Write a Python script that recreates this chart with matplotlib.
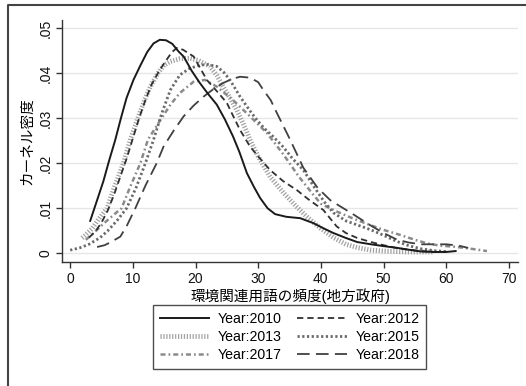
import matplotlib
matplotlib.use('Agg')
import matplotlib.pyplot as plt
from matplotlib.lines import Line2D

plt.rcParams['font.family'] = ['Liberation Sans', 'Noto Sans CJK JP']

# ── データ（図から読み取ったカーネル密度の推定値）──
x_2010 = [3.2, 4.3, 5.3, 6.2, 7.2, 8.1, 9.0, 10.1, 11.2, 12.3, 13.3, 14.3, 15.3, 16.3, 17.3, 18.1,
          19.4, 20.7, 22.0, 23.4, 24.7, 26.0, 27.0, 28.2, 29.3, 30.3, 31.5, 32.7, 34.5, 36.7, 38.8,
          40.5, 42.0, 44.0, 45.8, 48.0, 50.0, 52.2, 54.0, 56.0, 58.0, 60.0, 61.5]
y_2010 = [.0072, .0118, .0160, .0205, .0252, .0300, .0345, .0385, .0417, .0447, .0466, .0474, .0473,
          .0465, .0448, .0437, .0405, .0378, .0354, .0330, .0297, .0259, .0225, .0178, .0148, .0123,
          .0100, .0087, .0081, .0078, .0067, .0055, .0045, .0034, .0025, .0020, .0016, .0012, .0008,
          .0004, .0003, .0003, .0005]

x_2012 = [3.0, 4.0, 5.0, 6.0, 7.0, 8.0, 9.0, 10.0, 11.0, 12.0, 13.0, 14.2, 15.2, 16.2, 17.0, 18.0,
          19.7, 20.8, 21.8, 23.4, 25.0, 26.0, 27.1, 28.7, 30.0, 31.9, 34.0, 36.2, 38.0, 40.4, 42.5,
          44.0, 45.8, 48.0, 50.0, 52.0, 54.0, 56.0, 58.0, 60.0]
y_2012 = [.0035, .0048, .0068, .0095, .0130, .0170, .0210, .0255, .0300, .0340, .0375, .0405, .0426,
          .0446, .0456, .0452, .0437, .0410, .0385, .0360, .0334, .0305, .0274, .0237, .0215, .0185,
          .0160, .0140, .0120, .0096, .0060, .0045, .0034, .0025, .0018, .0012, .0008, .0005, .0003,
          .0003]

x_2013 = [1.9, 2.4, 3.5, 4.5, 5.9, 7.0, 8.5, 9.6, 10.8, 12.0, 12.8, 14.0, 15.0, 16.0, 17.5, 19.1,
          20.5, 22.3, 23.4, 24.4, 25.5, 26.6, 27.7, 28.7, 30.0, 31.9, 34.0, 36.0, 38.0, 40.0, 42.0,
          44.0, 46.0, 48.0, 50.0, 52.0, 54.0, 56.0, 58.0]
y_2013 = [.0034, .0040, .0055, .0075, .0100, .0145, .0200, .0252, .0300, .0345, .0370, .0400, .0418,
          .0426, .0432, .0433, .0428, .0415, .0395, .0370, .0345, .0318, .0285, .0252, .0215, .0170,
          .0135, .0105, .0078, .0055, .0035, .0020, .0012, .0007, .0005, .0004, .0003, .0003, .0003]

x_2015 = [0.0, 1.5, 3.0, 4.8, 6.0, 7.5, 9.0, 10.5, 12.0, 13.3, 14.6, 16.0, 17.5, 19.0, 20.7, 22.0,
          23.4, 24.5, 25.5, 27.1, 28.5, 29.8, 31.0, 32.4, 34.0, 35.5, 37.2, 38.8, 40.5, 42.0, 44.0,
          46.0, 48.0, 50.0, 52.0, 54.0, 56.0, 58.0, 60.0]
y_2015 = [.0007, .0012, .0020, .0035, .0050, .0073, .0100, .0145, .0200, .0252, .0310, .0363, .0396,
          .0410, .0418, .0419, .0415, .0402, .0385, .0348, .0320, .0296, .0277, .0259, .0236, .0210,
          .0185, .0150, .0115, .0090, .0072, .0062, .0052, .0040, .0027, .0017, .0010, .0006, .0004]

x_2017 = [2.5, 3.5, 4.5, 5.5, 6.5, 7.5, 8.2, 9.5, 11.2, 12.4, 14.4, 16.0, 17.5, 19.7, 21.5, 23.4,
          26.0, 28.7, 31.4, 34.0, 36.5, 38.8, 40.0, 42.5, 45.0, 47.8, 50.0, 52.6, 55.0, 57.0, 59.0,
          61.0, 63.0, 65.0, 66.5]
y_2017 = [.0030, .0042, .0055, .0068, .0080, .0092, .0100, .0145, .0200, .0252, .0296, .0330, .0356,
          .0381, .0385, .0370, .0340, .0304, .0267, .0220, .0170, .0130, .0110, .0093, .0078, .0063,
          .0052, .0041, .0030, .0022, .0017, .0015, .0012, .0008, .0005]

x_2018 = [4.3, 5.5, 6.5, 8.0, 9.0, 10.4, 12.0, 13.8, 14.9, 16.5, 18.1, 19.7, 21.3, 22.8, 24.4, 25.8,
          27.1, 28.7, 30.0, 30.8, 32.0, 33.0, 35.0, 37.2, 39.5, 41.5, 43.0, 45.0, 47.8, 50.0, 52.2,
          54.0, 56.0, 58.0, 60.0, 62.0, 63.5]
y_2018 = [.0014, .0018, .0025, .0037, .0060, .0100, .0150, .0200, .0237, .0272, .0304, .0328, .0348,
          .0364, .0378, .0387, .0392, .0390, .0380, .0363, .0340, .0311, .0255, .0190, .0145, .0118,
          .0105, .0088, .0063, .0045, .0030, .0024, .0020, .0020, .0020, .0017, .0012]

x_ticks = [0, 10, 20, 30, 40, 50, 60, 70]
y_ticks = [0, .01, .02, .03, .04, .05]
y_tick_labels = ['0', '.01', '.02', '.03', '.04', '.05']

fig = plt.figure(figsize=(5.26, 3.86), dpi=100)
ax = fig.add_axes([62 / 526, 1 - 262 / 386, 456 / 526, 242 / 386])

# ── 各年の曲線 ──
ax.plot(x_2013, y_2013, color='#a0a0a0', lw=3.5, ls=(0, (0.25, 0.35)),
        dash_capstyle='butt', label='Year:2013', zorder=2)
ax.plot(x_2017, y_2017, color='#8a8a8a', lw=1.8, ls=(0, (2.0, 1.2, 0.7, 1.2)),
        label='Year:2017', zorder=3)
ax.plot(x_2015, y_2015, color='#6a6a6a', lw=2.0, ls=(0, (0.8, 0.9)),
        label='Year:2015', zorder=3)
ax.plot(x_2018, y_2018, color='#404040', lw=1.3, ls=(0, (7, 3.5)),
        label='Year:2018', zorder=4)
ax.plot(x_2012, y_2012, color='#303030', lw=1.3, ls=(0, (3.5, 2.2)),
        label='Year:2012', zorder=4)
ax.plot(x_2010, y_2010, color='#1a1a1a', lw=1.4, ls='-',
        label='Year:2010', zorder=5)

# ── 軸・目盛り ──
ax.set_xlim(-1.3, 71.45)
ax.set_ylim(-0.00193, 0.0518)
ax.set_xticks(x_ticks)
ax.set_yticks(y_ticks)
ax.set_yticklabels(y_tick_labels, rotation=90, va='center')
ax.tick_params(axis='both', direction='out', length=4, width=1, color='#333333',
               labelsize=10, labelcolor='#111111')
ax.tick_params(axis='y', pad=3)
for s in ['top', 'right']:
    ax.spines[s].set_visible(False)
for s in ['left', 'bottom']:
    ax.spines[s].set_color('#333333')
    ax.spines[s].set_linewidth(1.0)
ax.yaxis.grid(True, color='#e6e6e6', lw=1.0)
ax.set_axisbelow(True)

ax.set_xlabel('環境関連用語の頻度(地方政府)', fontsize=10.5, labelpad=1)
ax.set_ylabel('カーネル密度', fontsize=10.5, labelpad=3)

# ── 凡例（2列、行ごとの順番）──
handles, labels = ax.get_legend_handles_labels()
order = ['Year:2010', 'Year:2013', 'Year:2017', 'Year:2012', 'Year:2015', 'Year:2018']
hmap = dict(zip(labels, handles))
leg = fig.legend([hmap[k] for k in order], order, loc='center',
                 bbox_to_anchor=(289.5 / 526, 1 - 337 / 386), ncol=2,
                 fontsize=10.2, handlelength=3.5, handletextpad=0.6,
                 columnspacing=1.1, labelspacing=0.3, borderpad=0.45,
                 frameon=True, fancybox=False, edgecolor='#222222')
leg.get_frame().set_linewidth(1.0)

# ── 外枠 ──
fig.add_artist(Line2D([8 / 526, 8 / 526, 1.0], [0.0, 1 - 5 / 386, 1 - 5 / 386],
                      transform=fig.transFigure, color='#444444', lw=1.5))

fig.savefig('out.png', dpi=100)
